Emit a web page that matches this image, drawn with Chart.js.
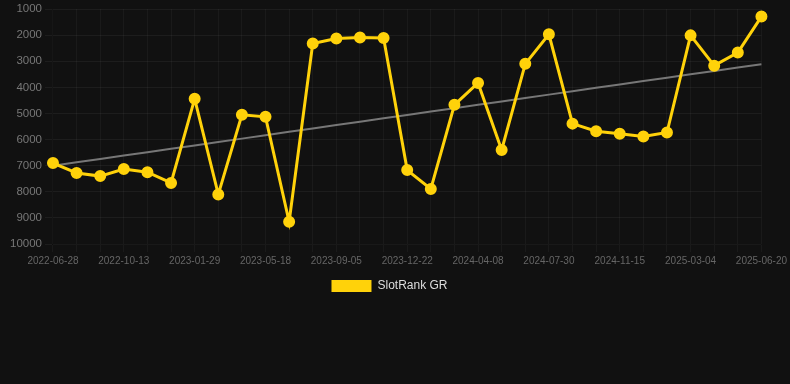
<!DOCTYPE html>
<html>
<head>
<meta charset="utf-8">
<script src="https://cdn.jsdelivr.net/npm/chart.js@4/dist/chart.umd.min.js"></script>
<style>
    html, body { margin: 0; padding: 0; background: #111111; }
    #wrap { width: 790px; height: 384px; }
</style>
</head>
<body>
<div id="wrap"><canvas id="graph_rank"></canvas></div>
<script>
    // dates (one per point)
    var dateLabels = [
        '2022-06-28', '2022-08-03', '2022-09-07', '2022-10-13', '2022-11-18', '2022-12-24',
        '2023-01-29', '2023-03-06', '2023-04-11', '2023-05-18', '2023-06-23', '2023-07-30',
        '2023-09-05', '2023-10-11', '2023-11-16', '2023-12-22', '2024-01-27', '2024-03-03',
        '2024-04-08', '2024-05-15', '2024-06-22', '2024-07-30', '2024-09-04', '2024-10-10',
        '2024-11-15', '2024-12-21', '2025-01-27', '2025-03-04', '2025-04-09', '2025-05-15',
        '2025-06-20'
    ];
    // rank values
    var rankValues = [
        6900, 7280, 7400, 7130, 7250, 7660,
        4440, 8100, 5050, 5130, 9150, 2320,
        2130, 2090, 2110, 7170, 7890, 4670,
        3830, 6400, 3100, 1970, 5390, 5680,
        5780, 5880, 5730, 2010, 3170, 2670,
        1290
    ];
    var yTicks = [1000, 2000, 3000, 4000, 5000, 6000, 7000, 8000, 9000, 10000];

    // least squares trend over the rank values
    function getTrend(values) {
        var n = values.length, sx = 0, sy = 0, sxy = 0, sxx = 0;
        for (var i = 0; i < n; i++) {
            sx += i; sy += values[i]; sxy += i * values[i]; sxx += i * i;
        }
        var slope = (n * sxy - sx * sy) / (n * sxx - sx * sx);
        var icpt = (sy - slope * sx) / n;
        return values.map(function (v, i) { return icpt + slope * i; });
    }

    // legend sits a bit left of centre in the original
    var legendShift = {
        id: 'legendShift',
        afterLayout: function (chart) {
            chart.legend.left -= 9;
            chart.legend.right -= 9;
        }
    };

    var ctx = document.getElementById('graph_rank').getContext('2d');
    var rankChart = new Chart(ctx, {
        type: 'line',
        data: {
            labels: dateLabels,
            datasets: [{
                label: 'SlotRank GR',
                data: rankValues,
                borderColor: '#FFD20A',
                backgroundColor: '#FFD20A',
                borderWidth: 3,
                pointRadius: 4.5,
                pointHoverRadius: 6,
                tension: 0
            }, {
                label: 'trend',
                data: getTrend(rankValues),
                borderColor: '#777777',
                borderWidth: 2,
                pointRadius: 0,
                fill: false
            }]
        },
        plugins: [legendShift],
        options: {
            responsive: true,
            maintainAspectRatio: false,
            animation: false,
            layout: {
                padding: { top: -2, right: 0, bottom: 82, left: 7 }
            },
            plugins: {
                tooltip: { enabled: false },
                legend: {
                    position: 'bottom',
                    labels: {
                        color: '#dddddd',
                        boxWidth: 40,
                        boxHeight: 12,
                        font: { size: 12, family: 'Arial, Liberation Sans' },
                        generateLabels: function (chart) {
                            var items = Chart.defaults.plugins.legend.labels.generateLabels(chart);
                            items.forEach(function (it) { it.lineWidth = 0; });
                            return items;
                        },
                        filter: function (item) { return item.text !== 'trend'; }
                    }
                }
            },
            scales: {
                x: {
                    grid: { color: 'rgba(255,255,255,0.04)' },
                    ticks: {
                        color: '#666666',
                        font: { size: 10, family: 'Arial, Liberation Sans' },
                        maxRotation: 0,
                        autoSkip: false,
                        callback: function (val, i) {
                            return i % 3 === 0 ? dateLabels[i] : '';
                        }
                    }
                },
                y: {
                    reverse: true,
                    min: 1000,
                    max: 10000,
                    grid: { color: 'rgba(255,255,255,0.05)' },
                    afterBuildTicks: function (axis) {
                        axis.ticks = yTicks.map(function (v) { return { value: v }; });
                    },
                    afterFit: function (axis) {
                        // let the top label run off the canvas like the original
                        axis.paddingTop = 0;
                    },
                    ticks: {
                        color: '#777777',
                        font: { size: 11.5, family: 'Arial, Liberation Sans' },
                        callback: function (v) { return String(v); }
                    }
                }
            }
        }
    });
</script>
</body>
</html>
